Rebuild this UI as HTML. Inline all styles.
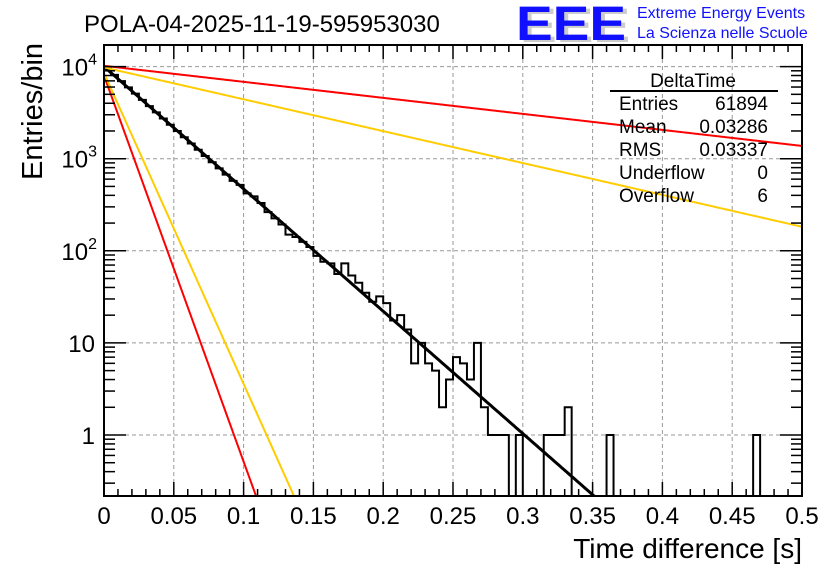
<!DOCTYPE html>
<html><head><meta charset="utf-8"><style>
body{margin:0;background:#fff}
svg text{font-family:"Liberation Sans",sans-serif}
</style></head><body>
<svg id="c" width="836" height="572" xmlns="http://www.w3.org/2000/svg">
<rect width="836" height="572" fill="#fff"/>
<text x="84" y="32" font-size="24">POLA-04-2025-11-19-595953030</text>
<g>
<text x="520" y="42" font-size="48" font-weight="bold" fill="#ccc" textLength="110" lengthAdjust="spacingAndGlyphs">EEE</text>
<text x="516" y="40" font-size="48" font-weight="bold" fill="#1010ff" textLength="110" lengthAdjust="spacingAndGlyphs">EEE</text>
<text x="637" y="18" font-size="16" fill="#1010ff">Extreme Energy Events</text>
<text x="637" y="38" font-size="16" fill="#1010ff">La Scienza nelle Scuole</text>
</g>
<g id="grid"></g>
<g id="marks"></g>
<g id="axes"></g>
<g font-size="19">
<text x="693" y="87" text-anchor="middle">DeltaTime</text>
<line x1="610" y1="91" x2="778" y2="91" stroke="#000" stroke-width="2"/>
<text x="619" y="110">Entries</text><text x="768" y="110" text-anchor="end">61894</text>
<text x="619" y="133">Mean</text><text x="768" y="133" text-anchor="end">0.03286</text>
<text x="619" y="156">RMS</text><text x="768" y="156" text-anchor="end">0.03337</text>
<text x="619" y="179">Underflow</text><text x="768" y="179" text-anchor="end">0</text>
<text x="619" y="202">Overflow</text><text x="768" y="202" text-anchor="end">6</text>
</g>
<text x="802" y="558" font-size="28" text-anchor="end">Time difference [s]</text>
<text transform="translate(42,180) rotate(-90)" font-size="29">Entries/bin</text>
</svg>
<script>
const binWidth = 0.005;
const counts = [9490,8120,6950,5945,5088,4354,3725,3188,2728,2334,1997,1709,1463,1252,1071,916,784,671,574,520,420,390,330,263,225,193,150,141,125,110,88,76,73,56,73,54,45,35,28,32,27,17.5,20,14,6,10,6,5,2,4,7,6,4,10,2,1,1,1,0,1,0,0,0,1,1,1,2,0,0,0,0,0,1,0,0,0,0,0,0,0,0,0,0,0,0,0,0,0,0,0,0,0,0,1,0,0,0,0,0,0];
const fitNames = ['fit-black','fit-red-steep','fit-yellow-steep','fit-red-shallow','fit-yellow-shallow'];
const fitN0 = [10000,8000,8500,10200,9800];
const fitTau = [0.0327,0.01036,0.01287,0.2496,0.1255];
const fitColors = ['#000','#f00','#fc0','#f00','#fc0'];
const xTicks = [0,0.05,0.1,0.15,0.2,0.25,0.3,0.35,0.4,0.45,0.5];
const xTickLabels = ['0','0.05','0.1','0.15','0.2','0.25','0.3','0.35','0.4','0.45','0.5'];
const yDecades = [0,1,2,3,4];

const L=104,R=802,T=45,B=496;
function X(t){return L+(t/0.5)*(R-L);}
function Y(v){return 435-Math.log10(v)*92.1;}
const NS='http://www.w3.org/2000/svg';
function mk(tag,attrs,parent){const e=document.createElementNS(NS,tag);for(const k in attrs)e.setAttribute(k,attrs[k]);parent.appendChild(e);return e;}
const grid=document.getElementById('grid'),marks=document.getElementById('marks'),axes=document.getElementById('axes');
xTicks.forEach((t,i)=>{if(i>0&&i<xTicks.length-1){const g=mk('line',{x1:X(t),x2:X(t),y1:T,y2:B,stroke:'#999','stroke-dasharray':'4,3','stroke-width':1},grid);

}});
yDecades.forEach(d=>{const g=mk('line',{x1:L,x2:R,y1:Y(Math.pow(10,d)),y2:Y(Math.pow(10,d)),stroke:'#999','stroke-dasharray':'4,3','stroke-width':1},grid);

});
const defs=mk('defs',{},marks);const cp=mk('clipPath',{id:'pa'},defs);mk('rect',{x:L,y:T,width:R-L,height:B-T},cp);
let d='';
counts.forEach((c,i)=>{const y=c>0?Math.min(Y(c),B):B;const x0=X(i*binWidth),x1=X((i+1)*binWidth);
if(i===0)d+='M'+x0+' '+y;else d+='L'+x0+' '+y;d+='L'+x1+' '+y;});
const h=mk('path',{d:d,fill:'none',stroke:'#000','stroke-width':2,'clip-path':'url(#pa)'},marks);


fitNames.forEach((n,k)=>{let p='';for(let j=0;j<=400;j++){const t=j*0.5/400;const v=fitN0[k]*Math.exp(-t/fitTau[k]);if(v<0.1)break;p+=(j?'L':'M')+X(t)+' '+Y(v);}
const f=mk('path',{d:p,fill:'none',stroke:fitColors[k],'stroke-width':k===0?3:2,'clip-path':'url(#pa)'},marks);

});
const fr=mk('rect',{x:L,y:T,width:R-L,height:B-T,fill:'none',stroke:'#000','stroke-width':2},axes);


for(let i=0;i<=50;i++){const t=i*0.01;const len=(i%5===0)?14:7;const x=X(t);
mk('line',{x1:x,x2:x,y1:B,y2:B-len,stroke:'#000','stroke-width':1.5},axes);mk('line',{x1:x,x2:x,y1:T,y2:T+len,stroke:'#000','stroke-width':1.5},axes);}
xTicks.forEach((t,i)=>{const tx=mk('text',{x:X(t),y:524,'font-size':24,'text-anchor':'middle'},axes);tx.textContent=xTickLabels[i];

});
for(let d2=-1;d2<=4;d2++){for(let m=1;m<=9;m++){const v=m*Math.pow(10,d2);const y=Y(v);if(y<T||y>B)continue;const len=m===1?22:11;
mk('line',{x1:L,x2:L+len,y1:y,y2:y,stroke:'#000','stroke-width':1.5},axes);mk('line',{x1:R,x2:R-len,y1:y,y2:y,stroke:'#000','stroke-width':1.5},axes);}}
yDecades.forEach(dd=>{const y=Y(Math.pow(10,dd));const tx=mk('text',{x:95,y:y+9,'font-size':24,'text-anchor':'end'},axes);
if(dd<=1)tx.textContent=dd===0?'1':'10';else{tx.textContent='10';const s=mk('tspan',{dy:-11,'font-size':16},tx);s.textContent=String(dd);tx.setAttribute('x',97);}

});
</script>
</body></html>
